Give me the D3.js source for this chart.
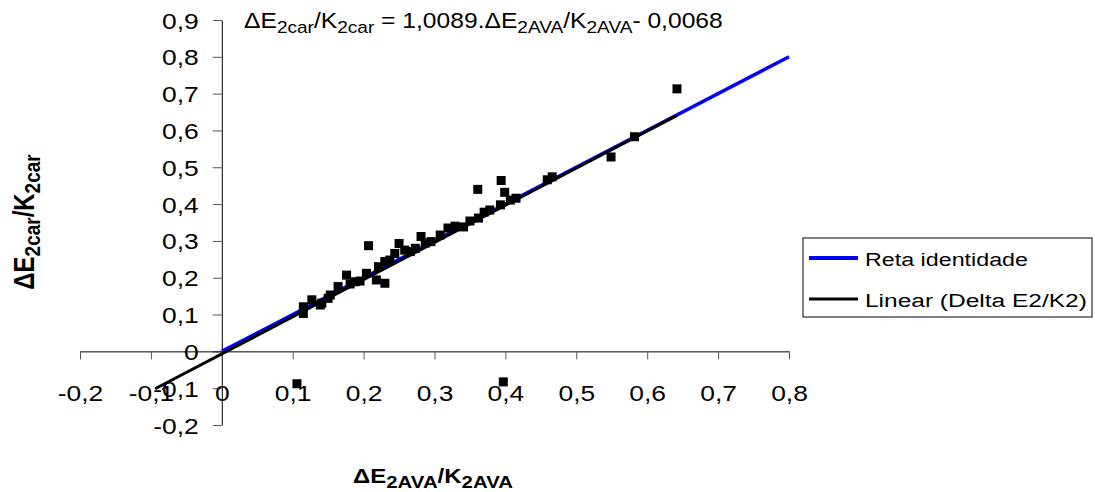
<!DOCTYPE html>
<html><head><meta charset="utf-8">
<script src="https://cdn.jsdelivr.net/npm/d3@7"></script>
<style>
body{margin:0;background:#fff}
svg{display:block}
text{font-family:"Liberation Sans",Arial,sans-serif;fill:#000}
</style>
</head><body>
<svg id="c" width="1095" height="492"></svg>
<script>
// ---------- data ----------
const xValues = [0.106,0.397,0.115,0.115,0.127,0.139,0.141,0.150,0.153,0.164,0.176,0.181,0.188,0.195,0.204,0.207,0.218,0.230,0.221,0.230,0.237,0.244,0.250,0.258,0.266,0.273,0.281,0.287,0.295,0.308,0.319,0.329,0.341,0.350,0.361,0.362,0.370,0.378,0.393,0.394,0.399,0.407,0.415,0.459,0.466,0.549,0.582,0.642];
const yValues = [-0.088,-0.083,0.103,0.121,0.140,0.126,0.131,0.144,0.153,0.176,0.207,0.183,0.189,0.191,0.212,0.287,0.194,0.185,0.230,0.244,0.248,0.266,0.293,0.275,0.271,0.280,0.312,0.294,0.298,0.316,0.335,0.340,0.338,0.354,0.440,0.362,0.378,0.384,0.398,0.464,0.432,0.411,0.416,0.466,0.474,0.528,0.583,0.713];
const xTickValues = [-0.2,-0.1,0,0.1,0.2,0.3,0.4,0.5,0.6,0.7,0.8];
const xTickLabels = ["-0,2","-0,1","0","0,1","0,2","0,3","0,4","0,5","0,6","0,7","0,8"];
const yTickValues = [-0.2,-0.1,0,0.1,0.2,0.3,0.4,0.5,0.6,0.7,0.8,0.9];
const yTickLabels = ["-0,2","-0,1","0","0,1","0,2","0,3","0,4","0,5","0,6","0,7","0,8","0,9"];
const trendSlope = 1.0089, trendIntercept = -0.0068;
const trendRange = [-0.094, 0.642];
const identityRange = [0, 0.8];
const legendLabels = ["Reta identidade", "Linear (Delta E2/K2)"];

// ---------- layout ----------
const SX = 1.2;
const svg = d3.select("#c");
const x = d3.scaleLinear().domain([-0.2, 0.8]).range([80, 789]);
const y = d3.scaleLinear().domain([-0.2, 0.9]).range([425, 20]);

// y axis
const yAxisG = svg.append("g").attr("transform", `translate(${x(0)},0)`)
  .call(d3.axisLeft(y).tickValues(yTickValues).tickSize(9).tickSizeOuter(0)
    .tickFormat((d, i) => yTickLabels[i]));
yAxisG.select(".domain").attr("stroke", "#000");
yAxisG.selectAll(".tick line").attr("stroke", "#555");
yAxisG.selectAll(".tick text")
  .attr("x", null).attr("dy", null).attr("text-anchor", "end")
  .style("font-size", "22px").attr("font-size", null).attr("font-family", null)
  .attr("transform", `translate(-23,8) scale(${SX},1)`);

// x axis
const xAxisG = svg.append("g").attr("transform", `translate(0,${y(0)})`)
  .call(d3.axisBottom(x).tickValues(xTickValues).tickSize(8).tickSizeOuter(0)
    .tickFormat((d, i) => xTickLabels[i]));
xAxisG.select(".domain").attr("stroke", "#000");
xAxisG.selectAll(".tick line").attr("stroke", "#555");
xAxisG.selectAll(".tick text")
  .attr("y", null).attr("dy", null).attr("text-anchor", "middle")
  .style("font-size", "22px").attr("font-size", null).attr("font-family", null)
  .attr("transform", `translate(0,50) scale(${SX},1)`);

// lines
const line = d3.line().x(d => x(d[0])).y(d => y(d[1]));
svg.append("path")
  .attr("d", line(identityRange.map(v => [v, v])))
  .attr("stroke", "#0000ff").attr("stroke-width", 3.5).attr("fill", "none");
svg.append("path")
  .attr("d", line(trendRange.map(v => [v, trendSlope * v + trendIntercept])))
  .attr("stroke", "#000").attr("stroke-width", 3).attr("fill", "none");

// points
const pts = xValues.map((v, i) => [v, yValues[i]]);
const S = 9;
svg.append("g").selectAll("rect").data(pts).join("rect")
  .attr("x", d => x(d[0]) - S / 2).attr("y", d => y(d[1]) - S / 2)
  .attr("width", S).attr("height", S).attr("fill", "#000");

// helper: rich text with subscripts, fitted horizontally
function richText(px, py, parts, main, sub, weight, targetW) {
  const g = svg.append("g").attr("transform", `translate(${px},${py})`);
  const t = g.append("text").attr("font-weight", weight);
  let isSub = false;
  parts.forEach(p => {
    const s = p[1];
    const ts = t.append("tspan").text(p[0]).style("font-size", (s ? sub : main) + "px");
    if (s && !isSub) ts.attr("dy", sub * 0.28);
    if (!s && isSub) ts.attr("dy", -sub * 0.28);
    isSub = s;
  });
  const w = t.node().getComputedTextLength();
  g.attr("transform", `translate(${px},${py}) scale(${targetW / w},1)`);
  return g;
}

// title
richText(244, 28, [["ΔE", 0], ["2car", 1], ["/K", 0], ["2car", 1], [" = 1,0089.ΔE", 0], ["2AVA", 1], ["/K", 0], ["2AVA", 1], ["- 0,0068", 0]], 22, 17, "normal", 479);

// x label
richText(353, 483, [["ΔE", 0], ["2AVA", 1], ["/K", 0], ["2AVA", 1]], 20, 17, "bold", 160);

// y label (rotated)
{
  const g = svg.append("g").attr("transform", `translate(34,222) scale(${SX},1) rotate(-90)`);
  const t = g.append("text").attr("font-weight", "bold").attr("text-anchor", "middle");
  const parts = [["ΔE", 0], ["2car", 1], ["/K", 0], ["2car", 1]];
  let isSub = false;
  parts.forEach(p => {
    const ts = t.append("tspan").text(p[0]).style("font-size", (p[1] ? 19 : 24) + "px");
    if (p[1] && !isSub) ts.attr("dy", 5);
    if (!p[1] && isSub) ts.attr("dy", -5);
    isSub = !!p[1];
  });
}

// legend
const lg = svg.append("g");
lg.append("rect").attr("x", 803).attr("y", 238).attr("width", 289).attr("height", 79)
  .attr("fill", "#fff").attr("stroke", "#000").attr("stroke-width", 1);
const legendStyles = [{c: "#0000ff", w: 4}, {c: "#000", w: 3}];
const legendYs = [258, 299];
const legendW = [163, 222];
legendLabels.forEach((lab, i) => {
  lg.append("line").attr("x1", 809).attr("x2", 858).attr("y1", legendYs[i]).attr("y2", legendYs[i])
    .attr("stroke", legendStyles[i].c).attr("stroke-width", legendStyles[i].w);
  const g = lg.append("g");
  const t = g.append("text").text(lab).style("font-size", "19px");
  const w = t.node().getComputedTextLength();
  g.attr("transform", `translate(865,${legendYs[i] + 8}) scale(${legendW[i] / w},1)`);
});
</script>
</body></html>
